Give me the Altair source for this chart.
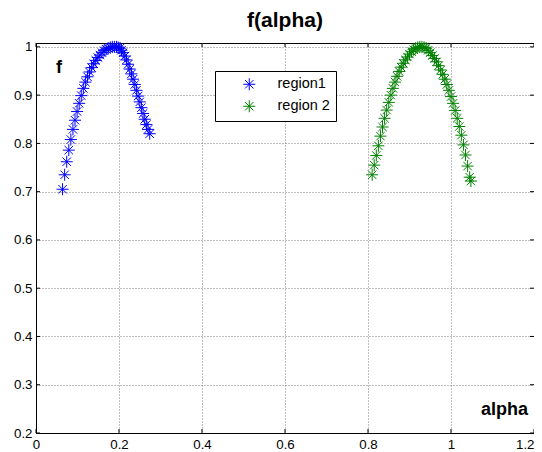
import altair as alt
import pandas as pd

# ---- data ----
alpha_region1 = [0.064, 0.069, 0.074, 0.079, 0.084, 0.089, 0.094, 0.099, 0.104, 0.109,
                 0.114, 0.119, 0.124, 0.129, 0.134, 0.139, 0.144, 0.149, 0.154, 0.159,
                 0.164, 0.169, 0.174, 0.179, 0.184, 0.189, 0.194, 0.198, 0.202, 0.206,
                 0.210, 0.214, 0.218, 0.222, 0.226, 0.230, 0.234, 0.238, 0.242, 0.246,
                 0.250, 0.254, 0.258, 0.262, 0.266, 0.270, 0.274]
f_region1 = [0.705, 0.735, 0.762, 0.786, 0.808, 0.829, 0.848, 0.866, 0.883, 0.899,
             0.914, 0.927, 0.938, 0.948, 0.957, 0.965, 0.972, 0.978, 0.983, 0.988,
             0.992, 0.995, 0.997, 0.999, 1.000, 1.000, 1.000, 0.999, 0.997, 0.993,
             0.988, 0.981, 0.973, 0.964, 0.954, 0.944, 0.933, 0.922, 0.910, 0.898,
             0.886, 0.874, 0.862, 0.850, 0.839, 0.829, 0.820]

alpha_region2 = [0.810, 0.815, 0.820, 0.825, 0.830, 0.835, 0.840, 0.845, 0.850, 0.855,
                 0.860, 0.865, 0.870, 0.875, 0.880, 0.885, 0.890, 0.895, 0.900, 0.905,
                 0.910, 0.915, 0.920, 0.925, 0.930, 0.935, 0.940, 0.945, 0.950, 0.955,
                 0.960, 0.965, 0.970, 0.975, 0.980, 0.985, 0.990, 0.995, 1.000, 1.005,
                 1.010, 1.015, 1.020, 1.025, 1.030, 1.035, 1.040, 1.045, 1.048]
f_region2 = [0.735, 0.755, 0.775, 0.795, 0.815, 0.834, 0.852, 0.869, 0.885, 0.900,
             0.914, 0.927, 0.939, 0.949, 0.958, 0.966, 0.973, 0.979, 0.985, 0.990,
             0.994, 0.997, 0.999, 1.000, 1.000, 0.999, 0.997, 0.993, 0.988, 0.982,
             0.976, 0.969, 0.961, 0.952, 0.943, 0.933, 0.922, 0.910, 0.897, 0.883,
             0.868, 0.852, 0.835, 0.817, 0.797, 0.776, 0.753, 0.730, 0.722]

series_names = ["region1", "region 2"]
series_colors = ["#0000ff", "#008000"]

x_ticks = [0, 0.2, 0.4, 0.6, 0.8, 1, 1.2]
y_ticks = [0.2, 0.3, 0.4, 0.5, 0.6, 0.7, 0.8, 0.9, 1]

title_text = "f(alpha)"
ylabel_text = "f"
xlabel_text = "alpha"

# ---- tables ----
df = pd.concat([
    pd.DataFrame({"alpha": alpha_region1, "f": f_region1, "series": series_names[0]}),
    pd.DataFrame({"alpha": alpha_region2, "f": f_region2, "series": series_names[1]}),
])
xt = pd.DataFrame({"alpha": x_ticks})
yt = pd.DataFrame({"f": y_ticks})

W, H = 498, 390
FONT = "Liberation Sans"
STAR = "M-1,0L1,0M0,-1L0,1M-0.7,-0.7L0.7,0.7M-0.7,0.7L0.7,-0.7"

xscale = alt.Scale(domain=[0, 1.2], nice=False, zero=False)
yscale = alt.Scale(domain=[0.2, 1.008], nice=False, zero=False)
x_axis = alt.Axis(values=x_ticks, format="~g", title=None, grid=True,
                  labelFlush=False, tickSize=0, labelPadding=4,
                  labelAlign=alt.ConditionalAxisLabelAlign(
                      condition={"test": "datum.value >= 1.19", "value": "right"},
                      value="center"))
y_axis = alt.Axis(values=y_ticks, format="~g", title=None, grid=True,
                  tickSize=0, labelPadding=4)

points = alt.Chart(df).mark_point(
    shape=STAR, filled=False, size=144, strokeWidth=1, opacity=1
).encode(
    x=alt.X("alpha:Q", scale=xscale, axis=x_axis),
    y=alt.Y("f:Q", scale=yscale, axis=y_axis),
    color=alt.Color("series:N",
                    scale=alt.Scale(domain=series_names, range=series_colors),
                    legend=alt.Legend(title=None, orient="none", legendX=179, legendY=28,
                                      fillColor="white", strokeColor="black",
                                      padding=6, symbolOffset=21, labelOffset=21,
                                      rowPadding=5, symbolType=STAR, symbolSize=144,
                                      symbolStrokeWidth=1, labelFont=FONT,
                                      labelFontSize=14.5, labelColor="black")),
)

xt_bottom = alt.Chart(xt).mark_rule(color="black", strokeWidth=1).encode(
    x=alt.X("alpha:Q", scale=xscale, axis=x_axis), y=alt.value(H), y2=alt.value(H - 4))
xt_top = alt.Chart(xt).mark_rule(color="black", strokeWidth=1).encode(
    x=alt.X("alpha:Q", scale=xscale, axis=x_axis), y=alt.value(0), y2=alt.value(4))
yt_left = alt.Chart(yt).mark_rule(color="black", strokeWidth=1).encode(
    y=alt.Y("f:Q", scale=yscale, axis=y_axis), x=alt.value(0), x2=alt.value(4))
yt_right = alt.Chart(yt).mark_rule(color="black", strokeWidth=1).encode(
    y=alt.Y("f:Q", scale=yscale, axis=y_axis), x=alt.value(W), x2=alt.value(W - 4))

f_label = alt.Chart(pd.DataFrame({"t": [ylabel_text]})).mark_text(
    font=FONT, fontSize=18, fontWeight="bold", align="left", baseline="middle", color="black"
).encode(x=alt.value(20), y=alt.value(25), text="t:N")
alpha_label = alt.Chart(pd.DataFrame({"t": [xlabel_text]})).mark_text(
    font=FONT, fontSize=18, fontWeight="bold", align="right", baseline="middle", color="black"
).encode(x=alt.value(492), y=alt.value(367), text="t:N")

chart = alt.layer(xt_bottom, xt_top, yt_left, yt_right, points, f_label, alpha_label).properties(
    width=W, height=H,
    title=alt.TitleParams(title_text, font=FONT, fontSize=21, fontWeight="bold",
                          color="black", frame="group", offset=8),
    autosize=alt.AutoSizeParams(type="none"),
    padding={"left": 28, "top": 35, "right": 0, "bottom": 19},
).configure_view(
    stroke="black", strokeWidth=1
).configure_axis(
    labelFont=FONT, labelFontSize=13.3, labelColor="black",
    domainColor="black", gridColor="#808080", gridDash=[1, 2], gridOpacity=1,
    gridWidth=1,
)

chart.save("out.html", embed_options={"renderer": "svg", "actions": False})
